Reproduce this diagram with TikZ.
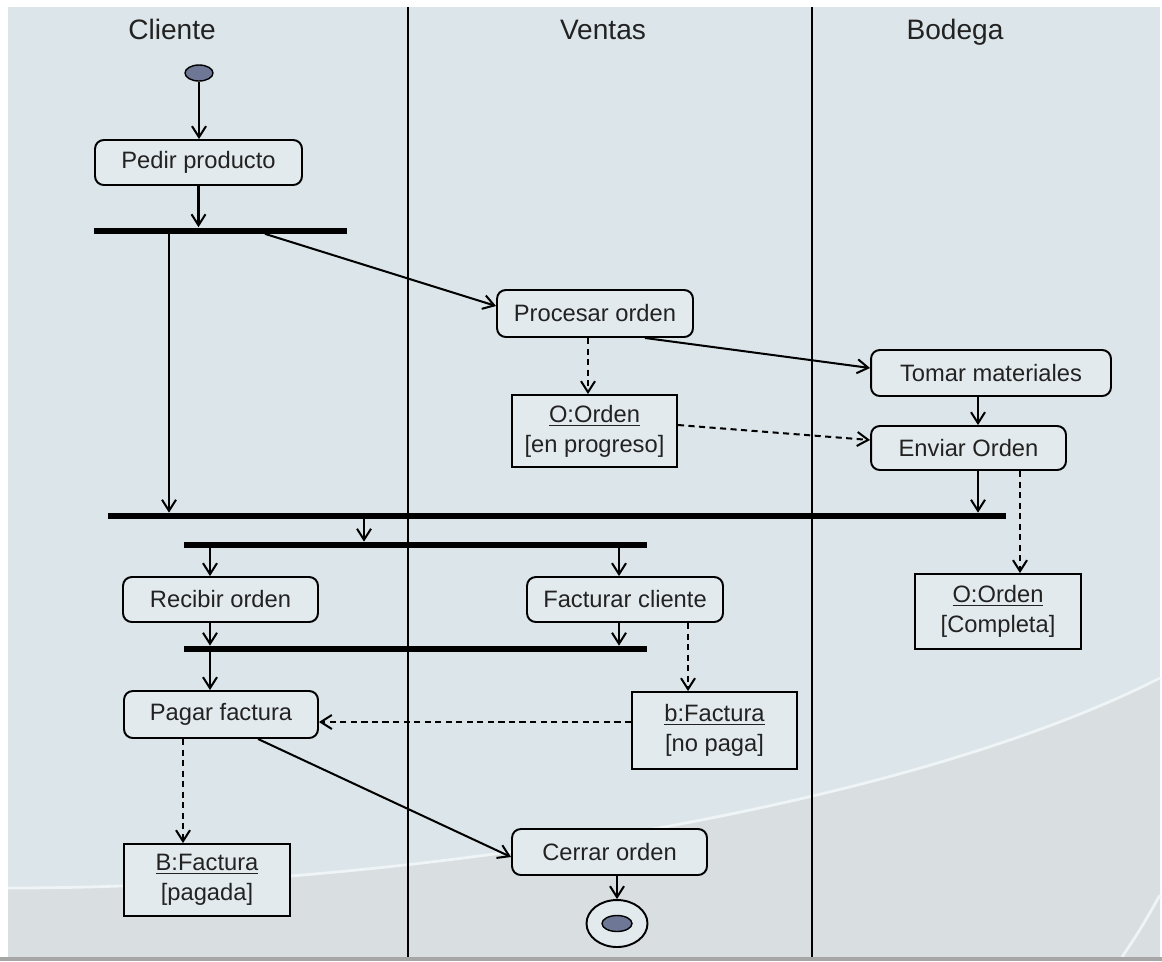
\documentclass[tikz,border=0pt]{standalone}
\usepackage{fontspec}
\setmainfont{Liberation Sans}
\usetikzlibrary{arrows.meta,positioning,shapes.geometric}
\definecolor{lanebg}{HTML}{DCE6EA}
\definecolor{lowbg}{HTML}{D9DFE1}
\definecolor{boxbg}{HTML}{E3EAED}
\definecolor{inkgray}{HTML}{222222}
\definecolor{dotfill}{HTML}{6E7796}
\tikzset{
  action/.style={rectangle, rounded corners=5pt, draw=black, line width=1.1pt, fill=boxbg,
                 text=inkgray, font=\fontsize{13.5}{17}\selectfont, inner sep=0pt},
  objbox/.style={rectangle, draw=black, line width=1.1pt, fill=boxbg, align=center,
                 text=inkgray, font=\fontsize{13.5}{17}\selectfont, inner sep=0pt},
  bar/.style={rectangle, fill=black, inner sep=0pt, minimum height=0.12cm},
  flow/.style={-{Straight Barb[length=2.2mm,width=2.8mm]}, line width=1.15pt},
}

\begin{document}
\begin{tikzpicture}[x=0.02cm, y=-0.02cm]
  % Styles
  \tikzset{
    objflow/.style={flow, dash pattern=on 3.5pt off 2.5pt},
    lanehead/.style={text=inkgray, font=\fontsize{16}{19}\selectfont, anchor=base},
    lanesep/.style={line width=1.1pt}
  }

  % ----- Background -----
  \fill[white] (0,0) rectangle (1162,961);
  \fill[lanebg] (8,7) rectangle (1160,957);
  \fill[lowbg] (8,888) .. controls (400,888) and (900,810) .. (1160,678) -- (1160,957) -- (8,957) -- cycle;
  \draw[white!55!lanebg, line width=1.6pt] (8,888) .. controls (400,888) and (900,810) .. (1160,678);
  \draw[white!55!lanebg, line width=1.6pt] (1122,957) .. controls (1140,930) .. (1160,895);
  \fill[gray!70] (0,957) rectangle (1162,961);

  % ----- Swimlanes -----
  \draw[lanesep] (408,7) -- (408,957);
  \draw[lanesep] (812,7) -- (812,957);
  \node[lanehead] (cliente) at (172,39) {Cliente};
  \node[lanehead] (ventas) at (603,39) {Ventas};
  \node[lanehead] (bodega) at (955,39) {Bodega};

  % ----- Actions -----
  \node[ellipse, draw=black, fill=dotfill, line width=0.8pt, minimum width=0.56cm, minimum height=0.32cm, inner sep=0pt] (start) at (199,73) {};
  \node[action, minimum width=4.14cm, minimum height=0.9cm] (pedir) at (198.5,162.5) {Pedir producto};
  \node[action, minimum width=3.92cm, minimum height=0.94cm] (procesar) at (595,313.5) {Procesar orden};
  \node[action, minimum width=4.8cm, minimum height=0.92cm] (tomar) at (991,373) {Tomar materiales};
  \node[action, minimum width=3.9cm, minimum height=0.88cm] (enviar) at (968.5,448) {Enviar Orden};
  \node[action, minimum width=3.9cm, minimum height=0.9cm] (recibir) at (220.5,599.5) {Recibir orden};
  \node[action, minimum width=3.92cm, minimum height=0.9cm] (facturar) at (625,599.5) {Facturar cliente};
  \node[action, minimum width=3.88cm, minimum height=0.94cm] (pagar) at (221,714.5) {Pagar factura};
  \node[action, minimum width=3.9cm, minimum height=0.92cm] (cerrar) at (609.5,852) {Cerrar orden};
  \node[ellipse, draw=black, line width=1.1pt, fill=boxbg, minimum width=1.22cm, minimum height=0.94cm, inner sep=0pt] (fin) at (617,923.5) {};
  \node[ellipse, draw=black, fill=dotfill, line width=0.8pt, minimum width=0.6cm, minimum height=0.32cm, inner sep=0pt] (findot) at (fin.center) {};

  % ----- Objects -----
  \node[objbox, minimum width=3.3cm, minimum height=1.44cm] (enprog) at (594.5,431) {\underline{O:Orden}\\{[en progreso]}};
  \node[objbox, minimum width=3.32cm, minimum height=1.5cm] (completa) at (998,611.5) {\underline{O:Orden}\\{[Completa]}};
  \node[objbox, minimum width=3.3cm, minimum height=1.54cm] (bfactura) at (714.5,730.5) {\underline{b:Factura}\\{[no paga]}};
  \node[objbox, minimum width=3.32cm, minimum height=1.44cm] (pagada) at (207,880) {\underline{B:Factura}\\{[pagada]}};

  % ----- Fork / join bars -----
  \node[bar, minimum width=5.06cm] (bar1) at (220.5,230.5) {};
  \node[bar, minimum width=17.96cm] (bar2) at (557,516) {};
  \node[bar, minimum width=9.26cm] (bar3) at (415.5,545) {};
  \node[bar, minimum width=9.26cm] (bar4) at (415.5,649) {};

  % ----- Control flow -----
  \draw[flow] (start.south) -- (start.south |- pedir.north);
  \draw[flow] (pedir.south) -- (pedir.south |- bar1.north);
  \draw[flow] ([xshift=0.89cm]bar1.south) -- ([yshift=0.15cm]procesar.west);
  \draw[flow] ([xshift=-1.03cm]bar1.south) -- ([xshift=-1.03cm]bar1.south |- bar2.north);
  \draw[flow] ([xshift=1cm]procesar.south) -- ([yshift=0.1cm]tomar.west);
  \draw[flow] ([xshift=-0.26cm]tomar.south) -- ([xshift=-0.26cm]tomar.south |- enviar.north);
  \draw[flow] ([xshift=0.19cm]enviar.south) -- ([xshift=0.19cm]enviar.south |- bar2.north);
  \draw[flow] ([xshift=-1.03cm]bar3.north |- bar2.south) -- ([xshift=-1.03cm]bar3.north);
  \draw[flow] ([xshift=-0.21cm]recibir.north |- bar3.south) -- ([xshift=-0.21cm]recibir.north);
  \draw[flow] ([xshift=-0.12cm]facturar.north |- bar3.south) -- ([xshift=-0.12cm]facturar.north);
  \draw[flow] ([xshift=-0.21cm]recibir.south) -- ([xshift=-0.21cm]recibir.south |- bar4.north);
  \draw[flow] ([xshift=-0.12cm]facturar.south) -- ([xshift=-0.12cm]facturar.south |- bar4.north);
  \draw[flow] ([xshift=-0.22cm]pagar.north |- bar4.south) -- ([xshift=-0.22cm]pagar.north);
  \draw[flow] ([xshift=0.74cm]pagar.south) -- ([yshift=-0.1cm]cerrar.west);
  \draw[flow] (fin.north |- cerrar.south) -- (fin.north);

  % ----- Object flow -----
  \draw[objflow] ([xshift=-0.14cm]procesar.south) -- ([xshift=-0.14cm]procesar.south |- enprog.north);
  \draw[objflow] ([yshift=0.12cm]enprog.east) -- ([yshift=0.16cm]enviar.west);
  \draw[objflow] ([xshift=1.03cm]enviar.south) -- ([xshift=1.03cm]enviar.south |- completa.north);
  \draw[objflow] ([xshift=-0.53cm]bfactura.north |- facturar.south) -- ([xshift=-0.53cm]bfactura.north);
  \draw[objflow] ([yshift=0.17cm]bfactura.west) -- ([yshift=0.17cm]bfactura.west -| pagar.east);
  \draw[objflow] ([xshift=-0.48cm]pagada.north |- pagar.south) -- ([xshift=-0.48cm]pagada.north);

\end{tikzpicture}
\end{document}
